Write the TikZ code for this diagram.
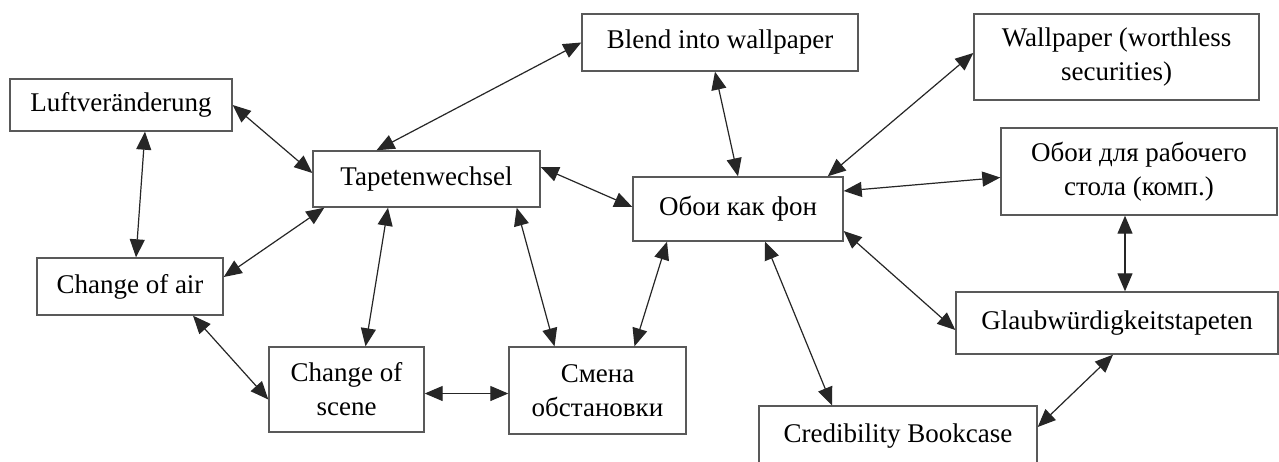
\documentclass[tikz,border=0pt]{standalone}
\usepackage{fontspec}
\setmainfont{Liberation Serif}
\usetikzlibrary{arrows.meta}

\begin{document}
\begin{tikzpicture}[x=1pt, y=-1pt,
	box/.style={draw=black!65, line width=1.4pt, fill=white, align=center,
		font=\fontsize{27}{34}\selectfont, inner sep=0pt},
	link/.style={line width=1.2pt, black!85, {Triangle[length=18pt,width=15pt]}-{Triangle[length=18pt,width=15pt]}}]
			\clip (0,0) rectangle (1279,461);
			\fill[white] (0,0) rectangle (1279,461);
			
			\node[box, minimum width=222pt, minimum height=52pt] (luft) at (121,105) {Luftveränderung};
			\node[box, minimum width=227pt, minimum height=56pt] (tapeten) at (426.5,179) {Tapetenwechsel};
			\node[box, minimum width=276pt, minimum height=57pt] (blend) at (720,42.5) {Blend into wallpaper};
			\node[box, minimum width=285pt, minimum height=86pt] (wallpaper) at (1116.5,57) {Wallpaper (worthless\\securities)};
			\node[box, minimum width=276pt, minimum height=87pt] (oboidesk) at (1139,171.5) {Обои для рабочего\\стола (комп.)};
			\node[box, minimum width=210pt, minimum height=64pt] (oboifon) at (738,209) {Обои как фон};
			\node[box, minimum width=186pt, minimum height=57pt] (air) at (130,286.5) {Change of air};
			\node[box, minimum width=155pt, minimum height=85pt] (scene) at (346.5,389.5) {Change of\\scene};
			\node[box, minimum width=177pt, minimum height=87pt] (smena) at (597.5,390.5) {Смена\\обстановки};
			\node[box, minimum width=322pt, minimum height=62pt] (glaub) at (1117,323) {Glaubwürdigkeitstapeten};
			\node[box, minimum width=278pt, minimum height=60pt] (cred) at (898,436) {Credibility Bookcase};
			
			\draw[link] (luft.east) -- ([yshift=6pt]tapeten.west);
			\draw[link] ([xshift=24pt]luft.south) -- ([xshift=6pt]air.north);
			\draw[link] ([xshift=12pt]tapeten.south west) -- ([yshift=9.5pt]air.east);
			\draw[link] ([xshift=-38.5pt]tapeten.south) -- ([xshift=19pt]scene.north);
			\draw[link] ([xshift=-50pt]tapeten.north) -- (blend.west);
			\draw[link] ([yshift=12pt]tapeten.east) -- ([yshift=2pt]oboifon.west);
			\draw[link] ([xshift=-24pt]tapeten.south east) -- ([xshift=-43pt]smena.north);
			\draw[link] ([xshift=-5pt]blend.south) -- (oboifon.north);
			\draw[link] ([yshift=4pt]wallpaper.west) -- ([xshift=-16pt]oboifon.north east);
			\draw[link] ([yshift=-6pt]oboidesk.west) -- ([yshift=18pt]oboifon.east);
			\draw[link] ([yshift=-22pt]oboifon.east) -- ([yshift=-7pt]glaub.west);
			\draw[link] ([xshift=-14pt]oboidesk.south) -- ([xshift=8pt]glaub.north);
			\draw[link] ([xshift=-71pt]oboifon.south) -- ([xshift=37pt]smena.north);
			\draw[link] ([xshift=27pt]oboifon.south) -- ([xshift=-66pt]cred.north);
			\draw[link] ([xshift=-4pt]glaub.south) -- ([yshift=9pt]cred.east);
			\draw[link] ([xshift=63pt]air.south) -- ([yshift=-10pt]scene.west);
			\draw[link] ([yshift=-4pt]scene.east) -- ([yshift=-3pt]smena.west);
		\end{tikzpicture}
\end{document}
